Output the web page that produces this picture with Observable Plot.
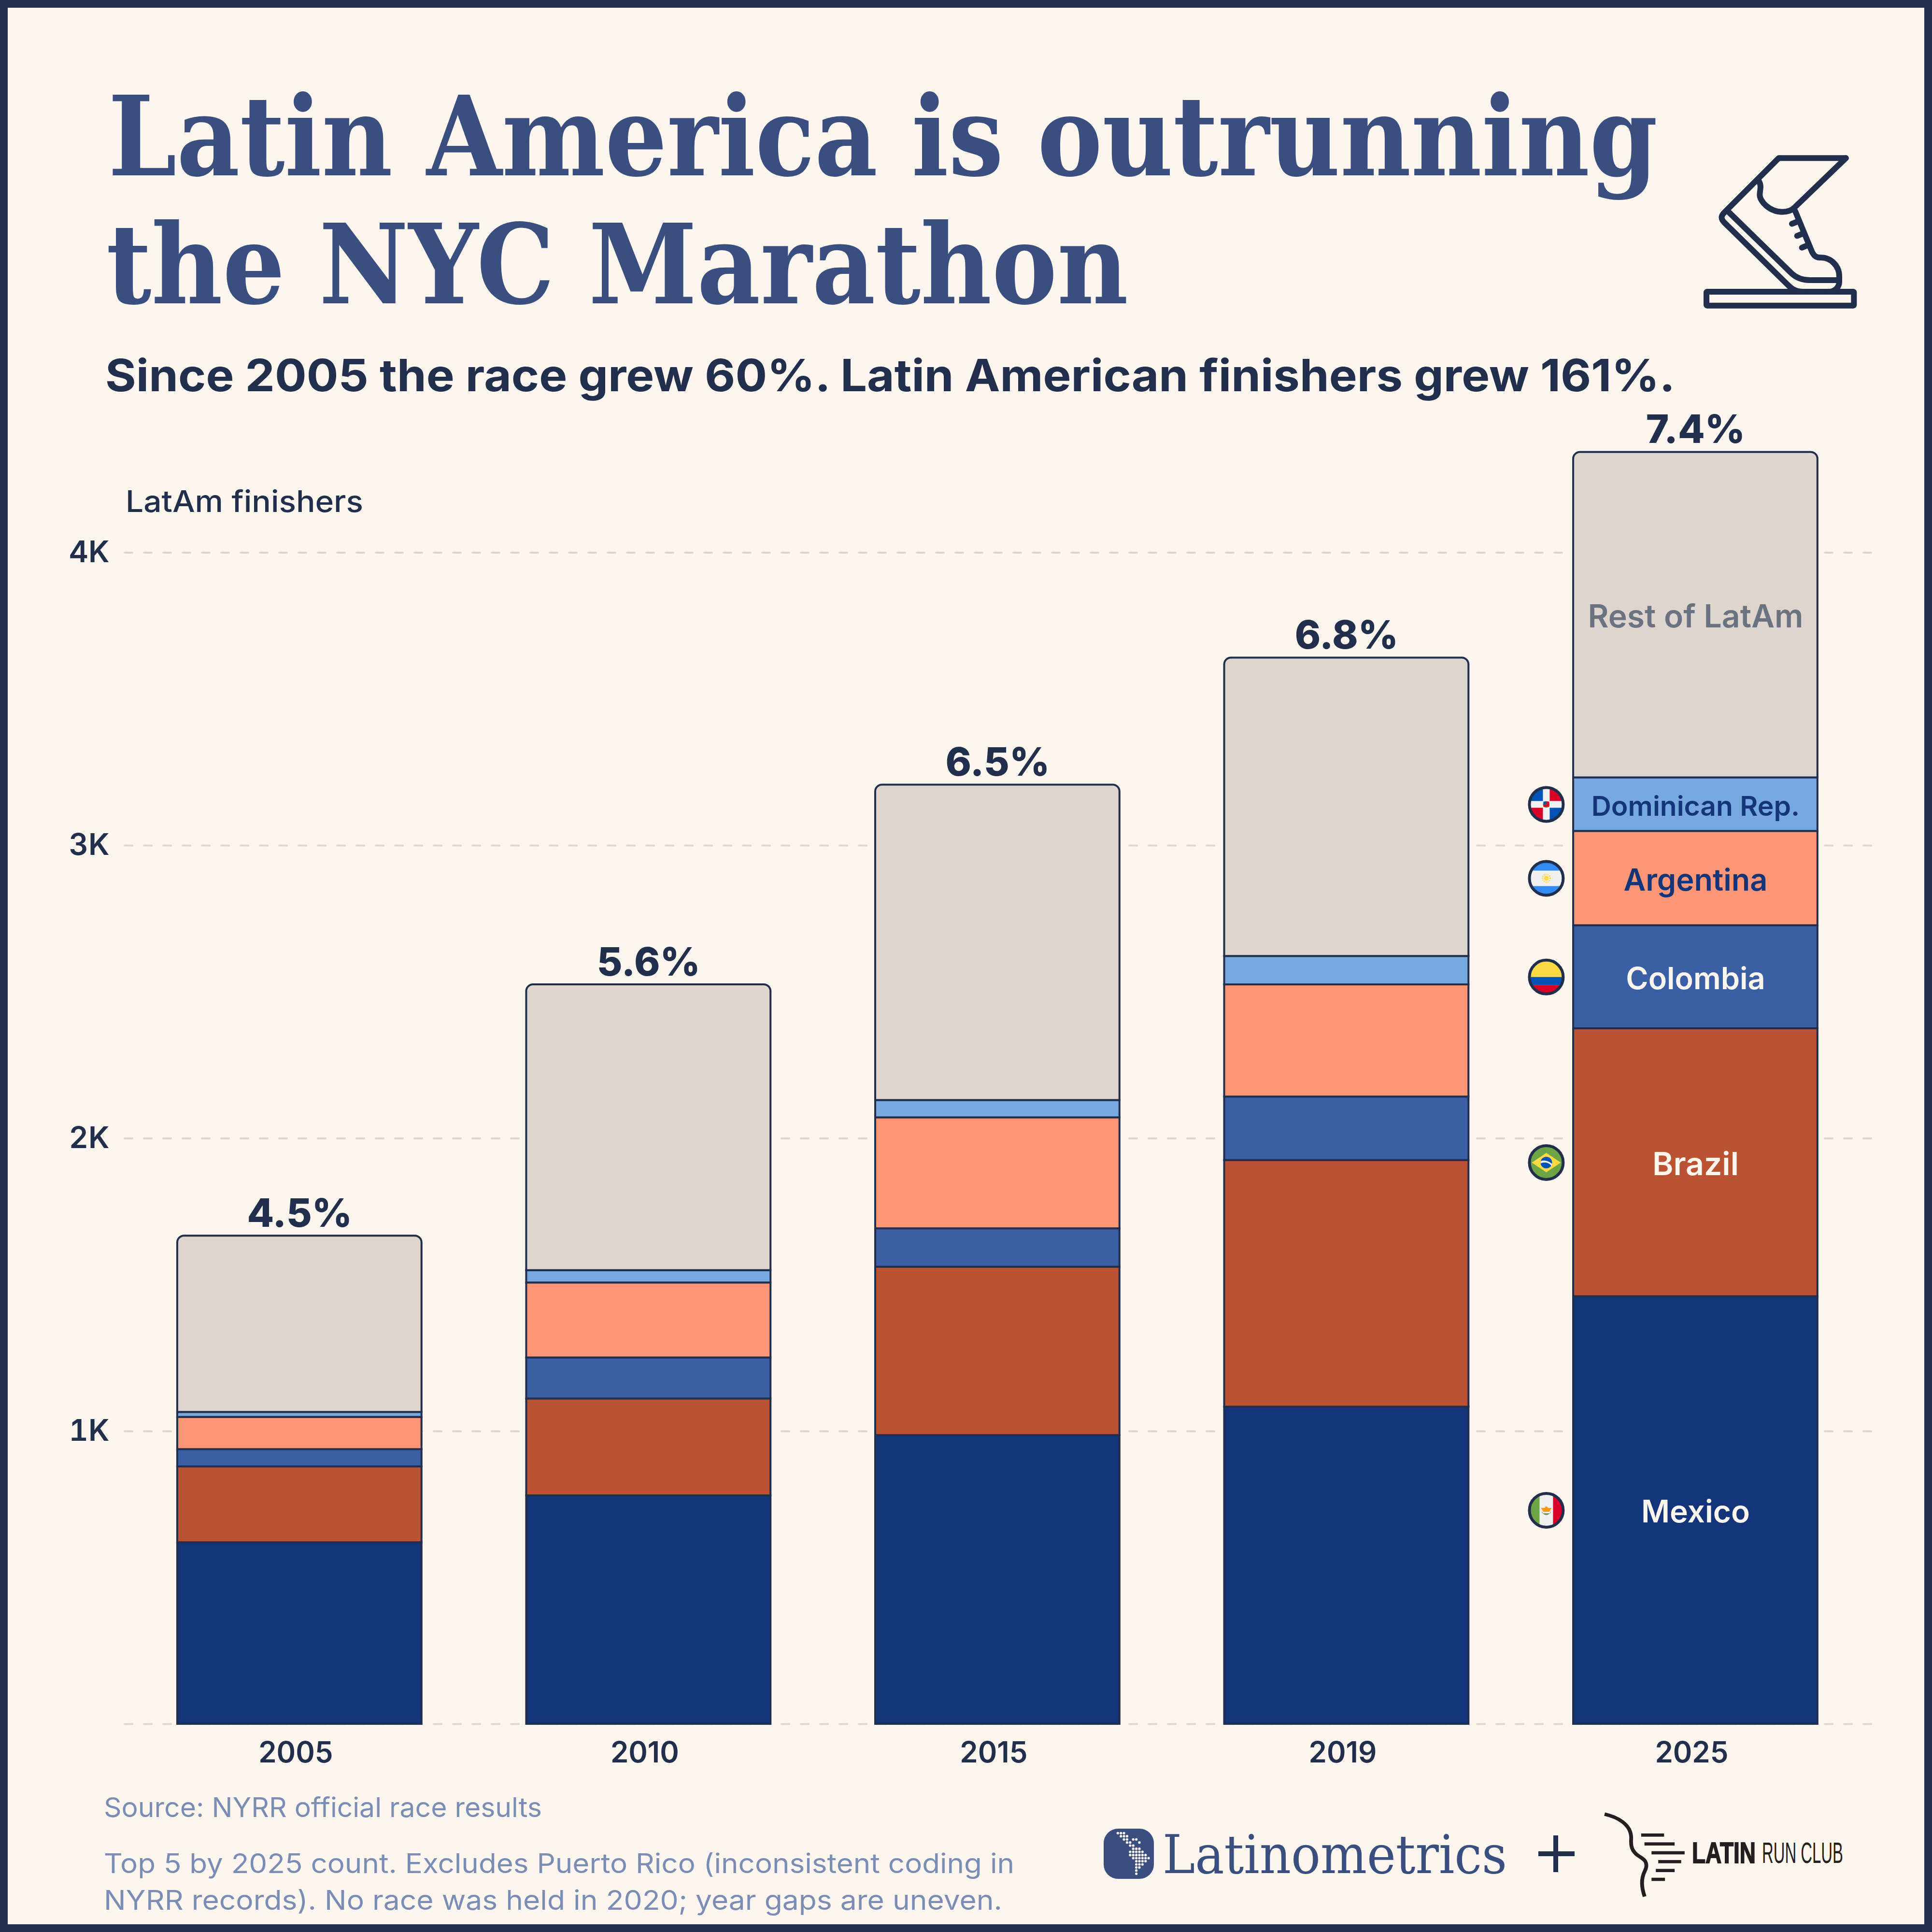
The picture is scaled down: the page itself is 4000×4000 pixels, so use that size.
<!DOCTYPE html>
<html><head><meta charset="utf-8">
<script src="https://cdn.jsdelivr.net/npm/d3@7"></script>
<script src="https://cdn.jsdelivr.net/npm/@observablehq/plot@0.6"></script>
<style>
html,body{margin:0;padding:0;background:#FDF6EF}
#page{position:relative;width:4000px;height:4000px;overflow:hidden;background:#FDF6EF}
#page .t{position:absolute;left:0;top:0;white-space:nowrap;transform-origin:0 0;margin:0;font-weight:inherit}
#page>svg{position:absolute}
#frame{position:absolute;inset:0;border:16px solid #212E4C;box-sizing:border-box;pointer-events:none}
</style></head><body>
<div id="page">
  <svg style="left:3400px;top:250px" width="500" height="450" viewBox="0 0 1500 1350" fill="none" stroke="#212E4C" stroke-width="36" stroke-linecap="round" stroke-linejoin="round">
    <rect x="399" y="1062" width="916" height="86" rx="4"/>
    <path d="M1265 232H848L510 570C488 592 488 610 510 632L905 1020C935 1050 960 1062 1000 1062"/>
    <path d="M1265 232L945 540"/>
    <path d="M530 560L930 950C965 982 1000 990 1040 990H1222" stroke-linecap="butt"/>
    <path d="M722 370C745 405 730 430 730 460C730 500 790 566 870 566C905 566 930 555 945 540" stroke-linecap="butt"/>
    <path d="M950 560L1055 815C1070 845 1085 850 1110 850C1175 850 1224 905 1224 965V1000C1224 1030 1200 1062 1160 1062"/>
    <path d="M930 640L975 622M962 715L1005 698M992 788L1035 770"/>
  </svg>
  <svg id="lmlogo" style="left:2285px;top:3786px" width="104" height="104" viewBox="0 0 104 104"><rect width="104" height="104" rx="30" fill="#3A4F80"/></svg>
  <svg style="left:3180px;top:3795px" width="84" height="86" viewBox="0 0 84 86" stroke="#212E4C" stroke-width="10"><path d="M41 5V81M5 43H80"/></svg>
  <svg style="left:3280px;top:3730px" width="560" height="230" viewBox="0 0 1568 690" preserveAspectRatio="none" fill="#231F20">
    <path d="M118 78C190 95 272 140 272 225C272 250 265 290 300 325C325 350 360 355 360 398C360 430 335 440 335 505C335 540 342 565 350 590" fill="none" stroke="#231F20" stroke-width="22"/>
    <rect x="330" y="198" width="133" height="20"/><rect x="349" y="253" width="175" height="20"/><rect x="390" y="308" width="192" height="20"/>
    <rect x="429" y="363" width="133" height="20"/><rect x="415" y="418" width="109" height="20"/><rect x="390" y="473" width="78" height="20"/>
  </svg>
  <div id="frame"></div>
</div>
<script>
// ---------- data (LatAm finishers by year)
const years = ["2005","2010","2015","2019","2025"];
const countries = ["Mexico","Brazil","Colombia","Argentina","Dominican Rep.","Rest of LatAm"];
const mexico   = [620,780,986,1083,1460];
const brazil   = [259,331,575,842,915];
const colombia = [59,140,131,217,352];
const argentina= [110,256,379,383,322];
const dominican= [17,42,59,97,183];
const rest     = [602,976,1077,1019,1111];
const shares   = ["4.5%","5.6%","6.5%","6.8%","7.4%"];
const yTicks   = [1000,2000,3000,4000];
const gridValues = [0,1000,2000,3000,4000];
const fills    = ["#14357A","#BB5232","#3A5FA5","#FF9676","#78A8E0","#DDD5CE"];
const labelInk = ["#FDF6EF","#FDF6EF","#FDF6EF","#14357A","#14357A","#6B7280"];
const labelSizes = [64,66,63,63,57,66];
const titleLines = ["Latin America is outrunning","the NYC Marathon"];
const subtitle = "Since 2005 the race grew 60%. Latin American finishers grew 161%.";
const yLabel = "LatAm finishers";
const source = "Source: NYRR official race results";
const notes = ["Top 5 by 2025 count. Excludes Puerto Rico (inconsistent coding in","NYRR records). No race was held in 2020; year gaps are uneven."];

const NAVY="#212E4C", BODY='Inter, "Noto Sans", sans-serif';
const series=[mexico,brazil,colombia,argentina,dominican,rest];
const rows=[];
years.forEach((year,i)=>{let c=0;countries.forEach((country,j)=>{const v=series[j][i];rows.push({year,country,y1:c,y2:c+v,mid:c+v/2,j});c+=v;});});
const totals=years.map((year,i)=>({year,share:shares[i],total:d3.sum(series,s=>s[i])}));
const last=rows.filter(d=>d.year==="2025");

// ---------- flags
const wrap=b=>"data:image/svg+xml,"+encodeURIComponent(`<svg xmlns="http://www.w3.org/2000/svg" viewBox="-40 -40 80 80"><defs><clipPath id="c"><circle r="33"/></clipPath></defs><g clip-path="url(#c)">${b}</g><circle r="35" fill="none" stroke="#212E4C" stroke-width="6"/></svg>`);
const flags={
"Mexico":wrap(`<rect x="-40" y="-40" width="80" height="80" fill="#F0F0F0"/><rect x="-40" y="-40" width="26" height="80" fill="#6DA544"/><rect x="14" y="-40" width="26" height="80" fill="#D80027"/><path d="M-9-3A9 10 0 0 0 9-3V3H-9Z" fill="#6DA544" transform="translate(0,3)"/><path d="M-11-5H11L6 3H-6Z" fill="#FF9811"/><circle cy="-5" r="3" fill="#FF9811"/>`),
"Brazil":wrap(`<rect x="-40" y="-40" width="80" height="80" fill="#6DA544"/><path d="M0-20L30 0L0 20L-30 0Z" fill="#FFDA44"/><circle r="12" fill="#0052B4"/><path d="M-12-3C-4-6 6-3 12 3L11 7C5 0-4-2-12 2Z" fill="#F0F0F0"/>`),
"Colombia":wrap(`<rect x="-40" y="-40" width="80" height="40" fill="#FFDA44"/><rect x="-40" y="0" width="80" height="17" fill="#0052B4"/><rect x="-40" y="17" width="80" height="23" fill="#D80027"/>`),
"Argentina":wrap(`<rect x="-40" y="-40" width="80" height="80" fill="#338AF3"/><rect x="-40" y="-16" width="80" height="32" fill="#F0F0F0"/><circle r="5" fill="#FFDA44"/><circle r="8" fill="none" stroke="#FFDA44" stroke-width="3" stroke-dasharray="2 2"/>`),
"Dominican Rep.":wrap(`<rect x="-40" y="-40" width="80" height="80" fill="#F0F0F0"/><rect x="-40" y="-40" width="33" height="33" fill="#0052B4"/><rect x="7" y="7" width="33" height="33" fill="#0052B4"/><rect x="7" y="-40" width="33" height="33" fill="#D80027"/><rect x="-40" y="7" width="33" height="33" fill="#D80027"/><circle r="7" fill="#6DA544"/><path d="M-6-6H0V0H-6Z" fill="#0052B4"/><path d="M0-6H6V0H0Z M-6 0H0V5H-6Z" fill="#D80027"/><path d="M0 0H6V5H0Z" fill="#D80027"/>`)
};
const flagRows=last.filter(d=>flags[d.country]);

// ---------- chart
const chart=Plot.plot({
  width:4000,height:4000,
  marginTop:800,marginBottom:431,marginLeft:258,marginRight:125,
  style:{background:"transparent",maxWidth:"none",overflow:"visible"},
  x:{domain:years,label:null,paddingInner:0.3,paddingOuter:0.153,align:0.4927,round:false},
  y:{domain:[0,4567],label:null},
  marks:[
    Plot.ruleY(gridValues,{stroke:"#DDD5CE",strokeWidth:4,strokeDasharray:"16 24",strokeLinecap:"round"}),
    Plot.axisY({ticks:yTicks,tickFormat:d=>d/1000+"K",anchor:"left",tickSize:0,tickPadding:32,fontSize:62,fontWeight:600,fontFamily:BODY,fill:NAVY,label:null}),
    Plot.axisX({anchor:"bottom",tickSize:0,tickPadding:37,fontSize:60,fontWeight:600,fontFamily:BODY,fill:NAVY,dx:-8,label:null}),
    Plot.barY(rows.filter(d=>d.country!=="Rest of LatAm"),{x:"year",y1:"y1",y2:"y2",fill:d=>fills[d.j],stroke:NAVY,strokeWidth:4}),
    Plot.barY(rows.filter(d=>d.country==="Rest of LatAm"),{x:"year",y1:"y1",y2:"y2",fill:d=>fills[d.j],stroke:NAVY,strokeWidth:4,ry1:14}),
    Plot.text(totals,{x:"year",y:"total",text:"share",lineAnchor:"bottom",dy:-19,fontSize:81,fontWeight:800,fontFamily:BODY,fill:NAVY}),
    Plot.text(last,{x:"year",y:"mid",text:"country",dy:5,fontSize:d=>labelSizes[d.j],fontWeight:600,fontFamily:BODY,fill:d=>labelInk[d.j]}),
    Plot.image(flagRows,{x:"year",y:"mid",src:d=>flags[d.country],width:80,height:80,dx:-309})
  ]
});
const page=document.getElementById("page");
page.insertBefore(chart,page.firstChild);
chart.style.position="absolute";chart.style.left="0";chart.style.top="0";

// ---------- logo dots
const logo=d3.select("#lmlogo");
[[196,[101,111,121]],[215,[111,121,131]],[235,[121,131,151,161]],[254,[131,141,171]],[273,[141,151]],[293,[151,161,171]],[312,[141,151,161,171,181]],[332,[141,151,161,171,181,191]],[351,[151,161,171,181,191,201]],[370,[161,171,181,191]],[390,[161,171,181]],[409,[161,171]],[428,[161]],[448,[161]]]
 .forEach(([y,xs])=>xs.forEach(x=>logo.append("circle").attr("cx",(x-55)/1.568).attr("cy",(y-168)/3).attr("r",2.6).attr("fill","#FDF6EF")));

// ---------- text helpers: place baseline at y, stretch to target width
function put(tag,text,x,base,w,css){
  const el=document.createElement(tag);el.className="t";el.textContent=text;
  el.style.cssText=css;page.insertBefore(el,document.getElementById("frame"));
  const s=document.createElement("span");s.style.cssText="display:inline-block;width:0;height:0";el.appendChild(s);
  const b=s.getBoundingClientRect().bottom-el.getBoundingClientRect().top;el.removeChild(s);
  const cur=el.getBoundingClientRect().width;
  el.style.left=x+"px";el.style.top=(base-b)+"px";
  el.style.transform=`scaleX(${w/cur})`;
}
const SERIF='"DejaVu Serif", serif';
put("h1",titleLines[0],224,363,3208,`font:700 229px ${SERIF};color:#3A4F80`);
put("h1",titleLines[1],220,628,2116,`font:700 229px ${SERIF};color:#3A4F80`);
put("h2",subtitle,218,810,3250,`font:700 92px ${BODY};color:${NAVY}`);
put("div",yLabel,260,1060,492,`font:500 62px ${BODY};color:${NAVY}`);
put("div",source,215,3762,907,`font:400 56px ${BODY};color:#7B8DB5`);
put("div",notes[0],215,3878,1885,`font:400 56px ${BODY};color:#7B8DB5`);
put("div",notes[1],215,3954,1860,`font:400 56px ${BODY};color:#7B8DB5`);
put("div","Latinometrics",2407,3878,713,`font:400 110px ${SERIF};color:#3A4F80`);
put("div","LATIN",3503,3857,132,`font:700 62px "Liberation Sans Narrow","Liberation Sans",sans-serif;color:#231F20;-webkit-text-stroke:2px #231F20`);
put("div","RUN CLUB",3648,3857,168,`font:400 62px "Liberation Sans Narrow","Liberation Sans",sans-serif;color:#231F20`);
</script>
</body></html>
